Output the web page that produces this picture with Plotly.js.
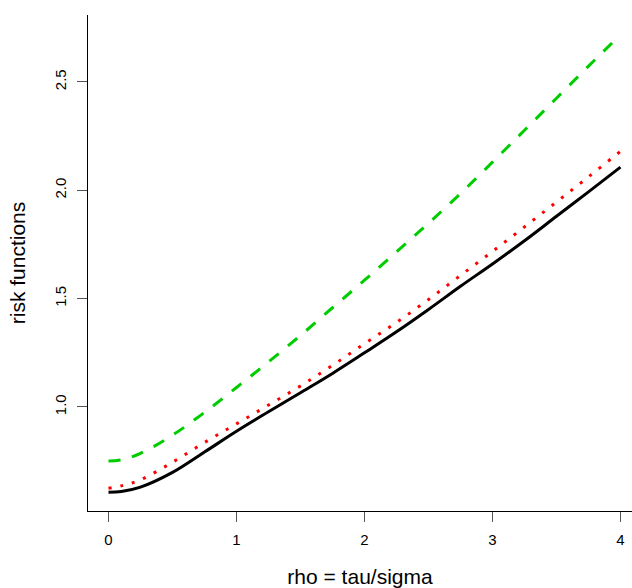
<!DOCTYPE html>
<html>
<head>
<meta charset="utf-8">
<script src="https://cdn.plot.ly/plotly-3.0.1.min.js"></script>
<style>html,body{margin:0;padding:0;background:#fff;}#chart{width:632px;height:588px;}</style>
</head>
<body>
<div id="chart"></div>
<script>
var rho = [0, 0.1, 0.25, 0.5, 0.75, 1.0, 1.25, 1.5, 1.75, 2.0, 2.25, 2.5, 2.75, 3.0, 3.25, 3.5, 3.75, 4.0];
var riskBlack = [0.606, 0.610, 0.630, 0.698, 0.792, 0.888, 0.978, 1.066, 1.155, 1.250, 1.347, 1.450, 1.557, 1.660, 1.767, 1.880, 1.993, 2.107];
var riskRed   = [0.625, 0.636, 0.664, 0.745, 0.836, 0.922, 1.009, 1.097, 1.192, 1.292, 1.390, 1.496, 1.607, 1.718, 1.831, 1.946, 2.062, 2.180];
var riskGreen = [0.751, 0.756, 0.786, 0.870, 0.975, 1.090, 1.208, 1.330, 1.458, 1.585, 1.716, 1.848, 1.985, 2.130, 2.277, 2.425, 2.573, 2.718];
var xTicks = [0, 1, 2, 3, 4];
var xTickText = ['0', '1', '2', '3', '4'];
var yTicks = [1.0, 1.5, 2.0, 2.5];
var yTickText = ['1.0', '1.5', '2.0', '2.5'];

var traces = [
  {x: rho, y: riskGreen, mode: 'lines', line: {color: '#00CD00', width: 3, dash: '12px,12px', shape: 'spline', smoothing: 1}, hoverinfo: 'none'},
  {x: rho, y: riskRed, mode: 'lines', line: {color: '#FF0000', width: 3, dash: '3px,9px', shape: 'spline', smoothing: 1}, hoverinfo: 'none'},
  {x: rho, y: riskBlack, mode: 'lines', line: {color: '#000000', width: 3, shape: 'spline', smoothing: 1}, hoverinfo: 'none'}
];

var layout = {
  width: 632, height: 588,
  margin: {l: 88, r: 0, t: 15, b: 77, pad: 0},
  paper_bgcolor: '#fff', plot_bgcolor: '#fff',
  showlegend: false,
  font: {family: 'Liberation Sans, Arial, sans-serif', color: '#000'},
  xaxis: {
    range: [-0.16, 4.09], showgrid: false, zeroline: false,
    showline: true, linecolor: '#000', linewidth: 1,
    ticks: 'outside', ticklen: 10, tickwidth: 1, tickcolor: '#555',
    tickvals: xTicks, ticktext: xTickText, tickfont: {size: 15},
    ticklabelstandoff: 5,
    title: {text: 'rho = tau/sigma', font: {size: 21}, standoff: 22},
    automargin: false
  },
  yaxis: {
    range: [0.52, 2.809], showgrid: false, zeroline: false,
    showline: true, linecolor: '#000', linewidth: 1,
    ticks: 'outside', ticklen: 10, tickwidth: 1, tickcolor: '#555',
    tickvals: yTicks, ticktext: yTickText, tickfont: {size: 15}, tickangle: -90,
    ticklabelstandoff: 5,
    title: {text: 'risk functions', font: {size: 21}, standoff: 20},
    automargin: false
  }
};
Plotly.newPlot('chart', traces, layout, {displayModeBar: false, staticPlot: true});
</script>
</body>
</html>
